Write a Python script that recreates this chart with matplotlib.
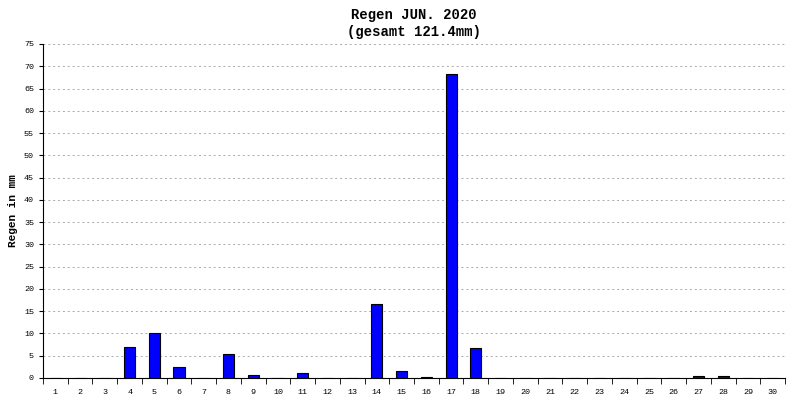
import matplotlib
matplotlib.use("Agg")
import matplotlib.pyplot as plt
import numpy as np

days = list(range(1, 31))
rain = [0, 0, 0, 6.9, 10.2, 2.5, 0, 5.4, 0.7, 0, 1.1, 0, 0, 16.7, 1.6, 0.3,
        68.3, 6.8, 0, 0, 0, 0, 0, 0, 0, 0, 0.4, 0.5, 0, 0]
title = "Regen JUN. 2020\n(gesamt 121.4mm)"

plt.rcParams['font.family'] = ['Liberation Mono', 'DejaVu Sans Mono']
fig = plt.figure(figsize=(8, 4), dpi=100)
ax = fig.add_axes([43/800, 22/400, 742/800, 334/400])
x = np.arange(len(days))
ax.bar(x, rain, width=0.45, color='#0000ff', edgecolor='black', linewidth=0.8, zorder=3)
ax.set_xlim(-0.5, len(days) - 0.5)
ax.set_ylim(0, 75)
ax.set_yticks(range(0, 76, 5))
ax.set_xticks(x)
ax.set_xticklabels([str(d) for d in days])
ax.set_xticks(np.arange(-0.5, len(days), 1), minor=True)
ax.tick_params(axis='x', which='major', length=0, labelsize=6, pad=8)
ax.tick_params(axis='x', which='minor', length=4, direction='out')
ax.tick_params(axis='y', labelsize=6, length=3)
ax.grid(axis='y', linestyle=(0, (2, 3)), color='#aaaaaa', linewidth=0.7, zorder=0)
ax.set_ylabel("Regen in mm", fontsize=8, fontweight='bold')
ax.set_title(title, fontsize=10, fontweight='bold', pad=6)
for s in ['top', 'right']:
    ax.spines[s].set_visible(False)
fig.savefig("out.png")
